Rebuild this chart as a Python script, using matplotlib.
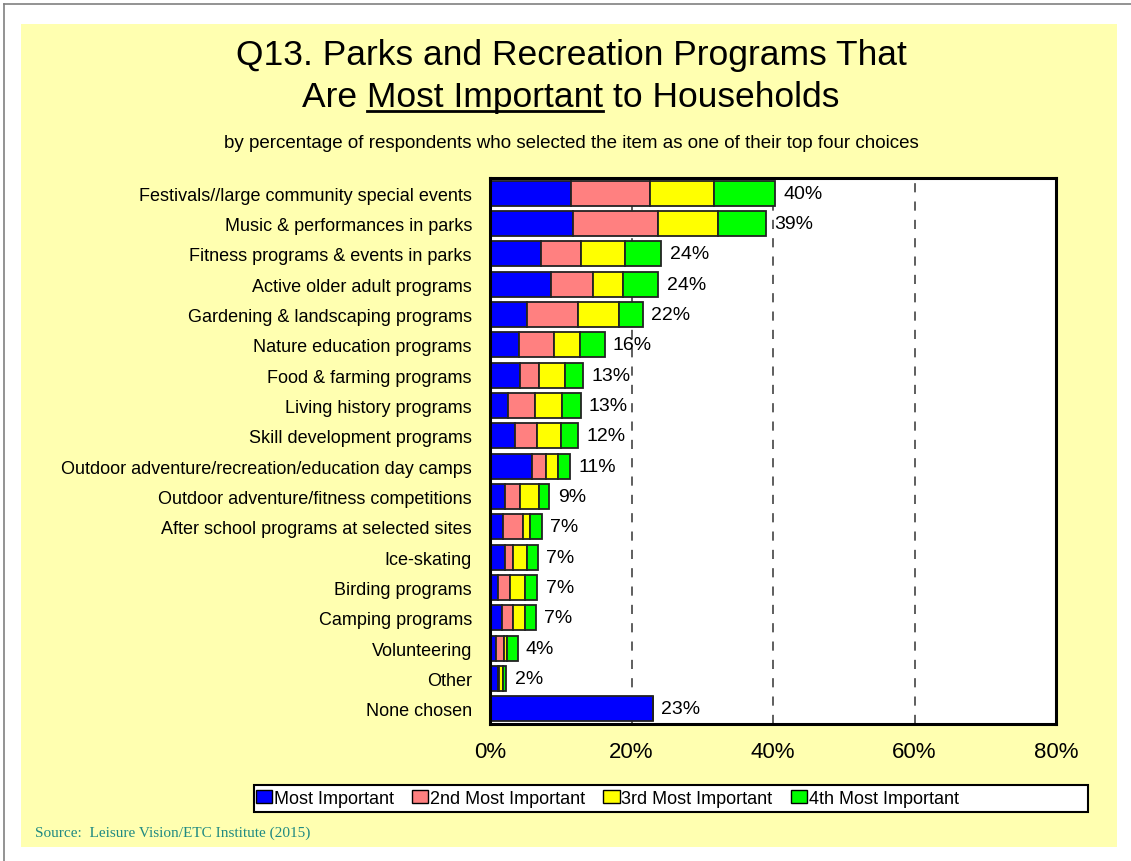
import numpy as np
import matplotlib.pyplot as plt
from matplotlib.patches import Rectangle, Patch
from matplotlib.lines import Line2D

plt.rcParams.update({
    "font.family": ["Liberation Sans", "DejaVu Sans"],
    "axes.unicode_minus": False,
})

categories = [
    "Festivals//large community special events",
    "Music & performances in parks",
    "Fitness programs & events in parks",
    "Active older adult programs",
    "Gardening & landscaping programs",
    "Nature education programs",
    "Food & farming programs",
    "Living history programs",
    "Skill development programs",
    "Outdoor adventure/recreation/education day camps",
    "Outdoor adventure/fitness competitions",
    "After school programs at selected sites",
    "Ice-skating",
    "Birding programs",
    "Camping programs",
    "Volunteering",
    "Other",
    "None chosen",
]

# percent of respondents, one series per choice rank
most_important = [11.5, 11.7, 7.2, 8.6, 5.3, 4.1, 4.3, 2.5, 3.5, 5.9, 2.1, 1.9, 2.1, 1.1, 1.65, 0.85, 1.1, 23.0]
second_most    = [11.1, 12.1, 5.7, 5.9, 7.1, 5.0, 2.6, 3.9, 3.2, 2.0, 2.1, 2.7, 1.1, 1.7, 1.55, 1.15, 0.17, 0.0]
third_most     = [9.0, 8.4, 6.2, 4.3, 5.8, 3.6, 3.7, 3.8, 3.4, 1.7, 2.7, 1.0, 2.0, 2.1, 1.8, 0.4, 0.5, 0.0]
fourth_most    = [8.7, 6.8, 5.1, 5.0, 3.4, 3.5, 2.6, 2.6, 2.3, 1.7, 1.5, 1.7, 1.6, 1.8, 1.5, 1.5, 0.55, 0.0]

total_labels = [40, 39, 24, 24, 22, 16, 13, 13, 12, 11, 9, 7, 7, 7, 7, 4, 2, 23]

series_names = ["Most Important", "2nd Most Important", "3rd Most Important", "4th Most Important"]
series_colors = ["#0000FF", "#FF8080", "#FFFF00", "#00FF00"]
xticks = [0, 20, 40, 60, 80]

W, H = 1131, 862
fig = plt.figure(figsize=(W / 100, H / 100), dpi=100)
fig.patch.set_facecolor("white")

# pale yellow slide background and thin outer border
fig.add_artist(Rectangle((21 / W, 1 - 848 / H), 1096 / W, 823 / H, transform=fig.transFigure,
                         facecolor="#FFFFB0", edgecolor="none", zorder=0))
fig.add_artist(Line2D([4 / W, 4 / W], [0, 1 - 5 / H], transform=fig.transFigure, color="#808080", lw=1.2))
fig.add_artist(Line2D([4 / W, 1], [1 - 5 / H, 1 - 5 / H], transform=fig.transFigure, color="#808080", lw=1.2))

ax = fig.add_axes([490 / W, 1 - 725 / H, 566 / W, 546 / H])
ax.set_facecolor("white")

y = np.arange(len(categories))
left = np.zeros(len(categories))
series = [most_important, second_most, third_most, fourth_most]
for vals, name, col in zip(series, series_names, series_colors):
    vals = np.array(vals)
    ax.barh(y, vals, left=left, height=0.82, color=col, edgecolor="#222222", linewidth=1.3,
            label=name, zorder=3)
    left = left + vals

for yi, tot, lab in zip(y, left, total_labels):
    ax.annotate(f"{lab}%", (tot, yi), xytext=(6, 0), textcoords="offset points",
                va="center", ha="left", fontsize=14, zorder=4)

ax.set_ylim(len(categories) - 0.5, -0.5)
ax.set_xlim(0, 80)
ax.set_yticks(y)
ax.set_yticklabels(categories, fontsize=13)
ax.set_xticks(xticks)
ax.set_xticklabels([f"{t}%" for t in xticks], fontsize=16)
ax.tick_params(axis="both", length=0)
ax.tick_params(axis="x", pad=12)
ax.tick_params(axis="y", pad=13)
for t in [20, 40, 60]:
    ax.axvline(t, color="#333333", lw=1.1, ls=(0, (6, 6)), zorder=1)
for s in ax.spines.values():
    s.set_linewidth(2.2)
    s.set_color("black")
    s.set_zorder(5)

# title with underlined phrase
tx = 571 / W
fig.text(tx, 1 - 56 / H, "Q13. Parks and Recreation Programs That", ha="center", va="center", fontsize=25.5)
line2 = fig.text(tx, 1 - 97 / H, "Are Most Important to Households", ha="center", va="center", fontsize=25.5)
fig.text(tx, 1 - 144 / H, "by percentage of respondents who selected the item as one of their top four choices",
         ha="center", va="center", fontsize=13.5)

fig.canvas.draw()
renderer = fig.canvas.get_renderer()
full_bb = line2.get_window_extent(renderer)
tmp_a = fig.text(0, 0, "Are Most Important", fontsize=25.5)
tmp_b = fig.text(0, 0, "Most Important", fontsize=25.5)
wa = tmp_a.get_window_extent(renderer).width
wb = tmp_b.get_window_extent(renderer).width
tmp_a.remove()
tmp_b.remove()
ux1 = full_bb.x0 + wa
ux0 = ux1 - wb
uy = H - 112
fig.add_artist(Line2D([ux0 / W, ux1 / W], [uy / H, uy / H], transform=fig.transFigure, color="black", lw=2))

# legend in a framed white box
fig.add_artist(Rectangle((254 / W, 1 - 813 / H), 834 / W, 27 / H, transform=fig.transFigure,
                         facecolor="white", edgecolor="black", lw=1.5, zorder=1))
handles = [Patch(facecolor=c, edgecolor="black", lw=1) for c in series_colors]
fig.legend(handles, series_names, loc="center left", bbox_to_anchor=(256 / W, 1 - 799.5 / H),
           ncol=4, frameon=False, fontsize=13, handlelength=0.9, handleheight=0.72,
           handletextpad=0.1, columnspacing=1.0, borderpad=0, borderaxespad=0)

fig.text(35 / W, 1 - 833 / H, "Source:  Leisure Vision/ETC Institute (2015)", ha="left", va="center",
         fontsize=11, color="#1F8A82", family=["Liberation Serif", "DejaVu Serif"])

fig.savefig("out.png", dpi=100)
